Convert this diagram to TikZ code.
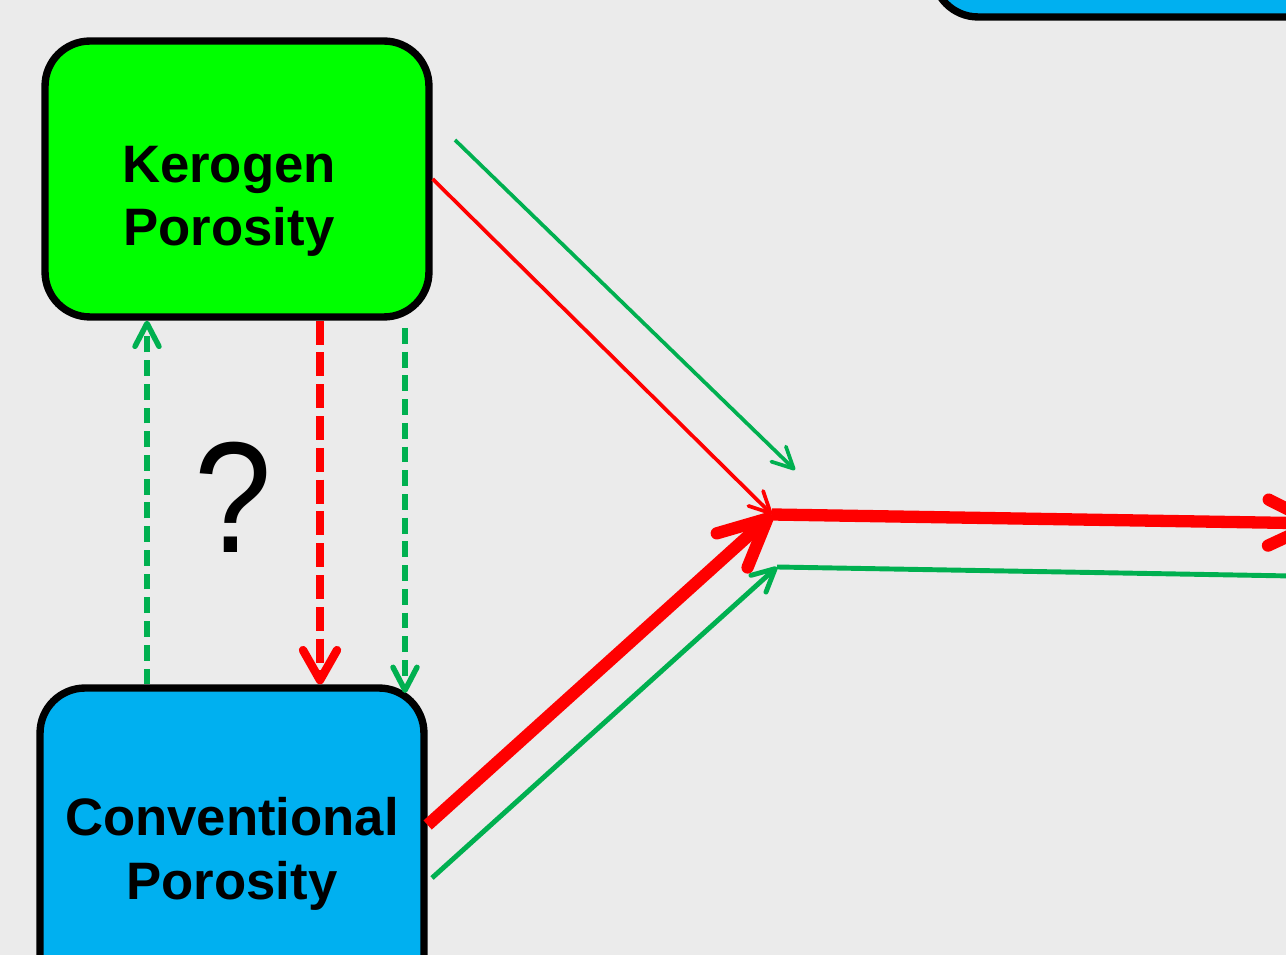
\documentclass[tikz,border=0pt]{standalone}
\usepackage{fontspec}
\setmainfont{Liberation Sans}
\usetikzlibrary{arrows.meta}
\definecolor{bg}{HTML}{EBEBEB}
\definecolor{kgreen}{HTML}{00FF00}
\definecolor{pcyan}{HTML}{00B0F0}
\definecolor{agreen}{HTML}{00B050}
\definecolor{ared}{HTML}{FF0000}
\begin{document}
\begin{tikzpicture}[x=0.02cm,y=-0.02cm,
  porebox/.style={draw=black,line width=4.2pt,rounded corners=0.9cm,inner sep=0pt},
  lbl/.style={font=\bfseries\fontsize{30}{36}\selectfont,align=center,inner sep=0pt},
  thinG/.style={agreen,line width=2.1pt,-{Straight Barb[length=0.42cm,width=0.42cm,round]}},
  thinR/.style={ared,line width=2.1pt,-{Straight Barb[length=0.42cm,width=0.42cm,round]}},
  medG/.style={agreen,line width=2.8pt},
  medGarrow/.style={medG,-{Straight Barb[length=0.45cm,width=0.45cm,round]}},
  thickR/.style={ared,line width=7pt},
  thickRarrow/.style={thickR,-{Straight Barb[length=0.95cm,width=0.92cm,round]}},
  dashG/.style={agreen,line width=3.1pt,dash pattern=on 9pt off 4.5pt,
    -{Straight Barb[length=0.46cm,width=0.48cm,round]}},
  dashR/.style={ared,line width=4.8pt,dash pattern=on 13.6pt off 4.5pt,
    -{Straight Barb[length=0.6cm,width=0.68cm,round]}}]
\useasboundingbox (0,0) rectangle (1286,955);
\fill[bg] (0,0) rectangle (1286,955);
\clip (0,0) rectangle (1286,955);

% boxes
\node[porebox,fill=kgreen,minimum width=7.68cm,minimum height=5.52cm] (kero) at (237,179) {};
\node[porebox,fill=pcyan,minimum width=7.68cm,minimum height=6.24cm] (conv) at (232,844) {};
\node[porebox,fill=pcyan,minimum width=9.34cm,minimum height=4.34cm] (top) at (1166.5,-91.5) {};

% labels
\node[lbl] (keroText) at (229,201) {Kerogen\\Porosity};
\node[lbl] (convText) at (232,854) {Conventional\\Porosity};
\node[inner sep=0pt,font=\fontsize{90}{100}\selectfont] (qmark) at (233,497) {\scalebox{0.88}[1]{?}};

% junction points and free ends
\coordinate (jR) at (772,514.5);
\coordinate (jG) at (777,567);
\coordinate (gTopS) at (455,140);
\coordinate (gTopE) at (795,470);
\coordinate (gLowS) at (432,878);
\coordinate (rEnd) at (1322,523.5);
\coordinate (gEnd) at (1292,576);
\coordinate (dgS) at (405,328);
\coordinate (dgE) at (405,693);

% inflows to the junctions
\draw[thinG] (gTopS) -- (gTopE);
\draw[thinR] (kero.east) -- (jR);
\draw[thickRarrow] (conv.east |- 0,825) -- (jR);
\draw[medGarrow] (gLowS) -- (jG);

% outflows
\draw[thickRarrow] (jR) -- (rEnd);
\draw[medG] (jG) -- (gEnd);

% exchange between the two porosity types
\draw[dashG] (conv.north -| 147,0) -- (kero.south -| 147,0);
\draw[dashR] (kero.south -| 320,0) -- (conv.north -| 320,0);
\draw[dashG] (dgS) -- (dgE);
\end{tikzpicture}
\end{document}
